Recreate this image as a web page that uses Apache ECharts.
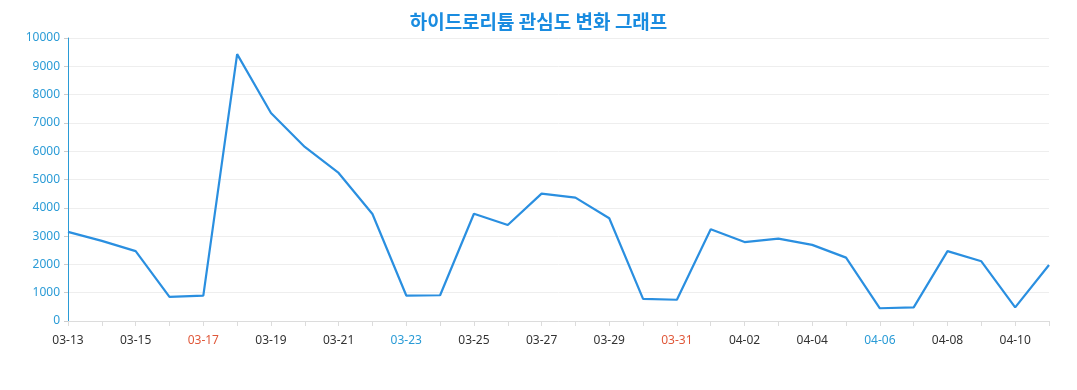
<!DOCTYPE html>
<html><head><meta charset="utf-8">
<script src="https://cdn.jsdelivr.net/npm/echarts@6/dist/echarts.min.js"></script>
<style>html,body{margin:0;padding:0;background:#fff}#c{width:1077px;height:390px}</style>
</head><body><div id="c"></div>
<script>
var categories = ['03-13','03-14','03-15','03-16','03-17','03-18','03-19','03-20','03-21','03-22','03-23','03-24','03-25','03-26','03-27','03-28','03-29','03-30','03-31','04-01','04-02','04-03','04-04','04-05','04-06','04-07','04-08','04-09','04-10','04-11'];
var values = [3150,2830,2470,850,900,9430,7350,6150,5230,3780,900,910,3790,3390,4500,4360,3630,780,750,3240,2790,2910,2690,2240,450,480,2470,2110,480,1980];
var sundays = ['03-17','03-24','03-31','04-07'];
var saturdays = ['03-16','03-23','03-30','04-06'];
var chart = echarts.init(document.getElementById('c'));
chart.setOption({
  animation:false,
  title:{text:'하이드로리튬 관심도 변화 그래프',left:'center',top:7,
    textStyle:{color:'#1a8ce0',fontSize:19,fontWeight:'bold',fontFamily:'Noto Sans CJK KR'}},
  grid:{left:68,right:28,top:38,bottom:69},
  xAxis:{type:'category',data:categories,boundaryGap:false,
    axisLine:{lineStyle:{color:'#dcdcdc'}},
    axisTick:{lineStyle:{color:'#dcdcdc'},interval:0},
    axisLabel:{interval:1,margin:14,fontSize:12,fontFamily:'Noto Sans',
      color:function(v){return sundays.indexOf(v)>=0?'#e0583a':(saturdays.indexOf(v)>=0?'#2a9bd6':'#333');}}},
  yAxis:{type:'value',min:0,max:10000,interval:1000,
    axisLine:{show:true,lineStyle:{color:'#2a9bd6'}},
    axisTick:{show:true,length:4,lineStyle:{color:'#cccccc'}},
    axisLabel:{color:'#2a9bd6',fontSize:12,fontFamily:'Noto Sans',formatter:function(v){return String(v);}},
    splitLine:{lineStyle:{color:'#eeeeee'}}},
  series:[{type:'line',data:values,showSymbol:false,symbol:'none',
    lineStyle:{color:'#2a8fe0',width:2.2},itemStyle:{color:'#2a8fe0'}}]
});
</script></body></html>
